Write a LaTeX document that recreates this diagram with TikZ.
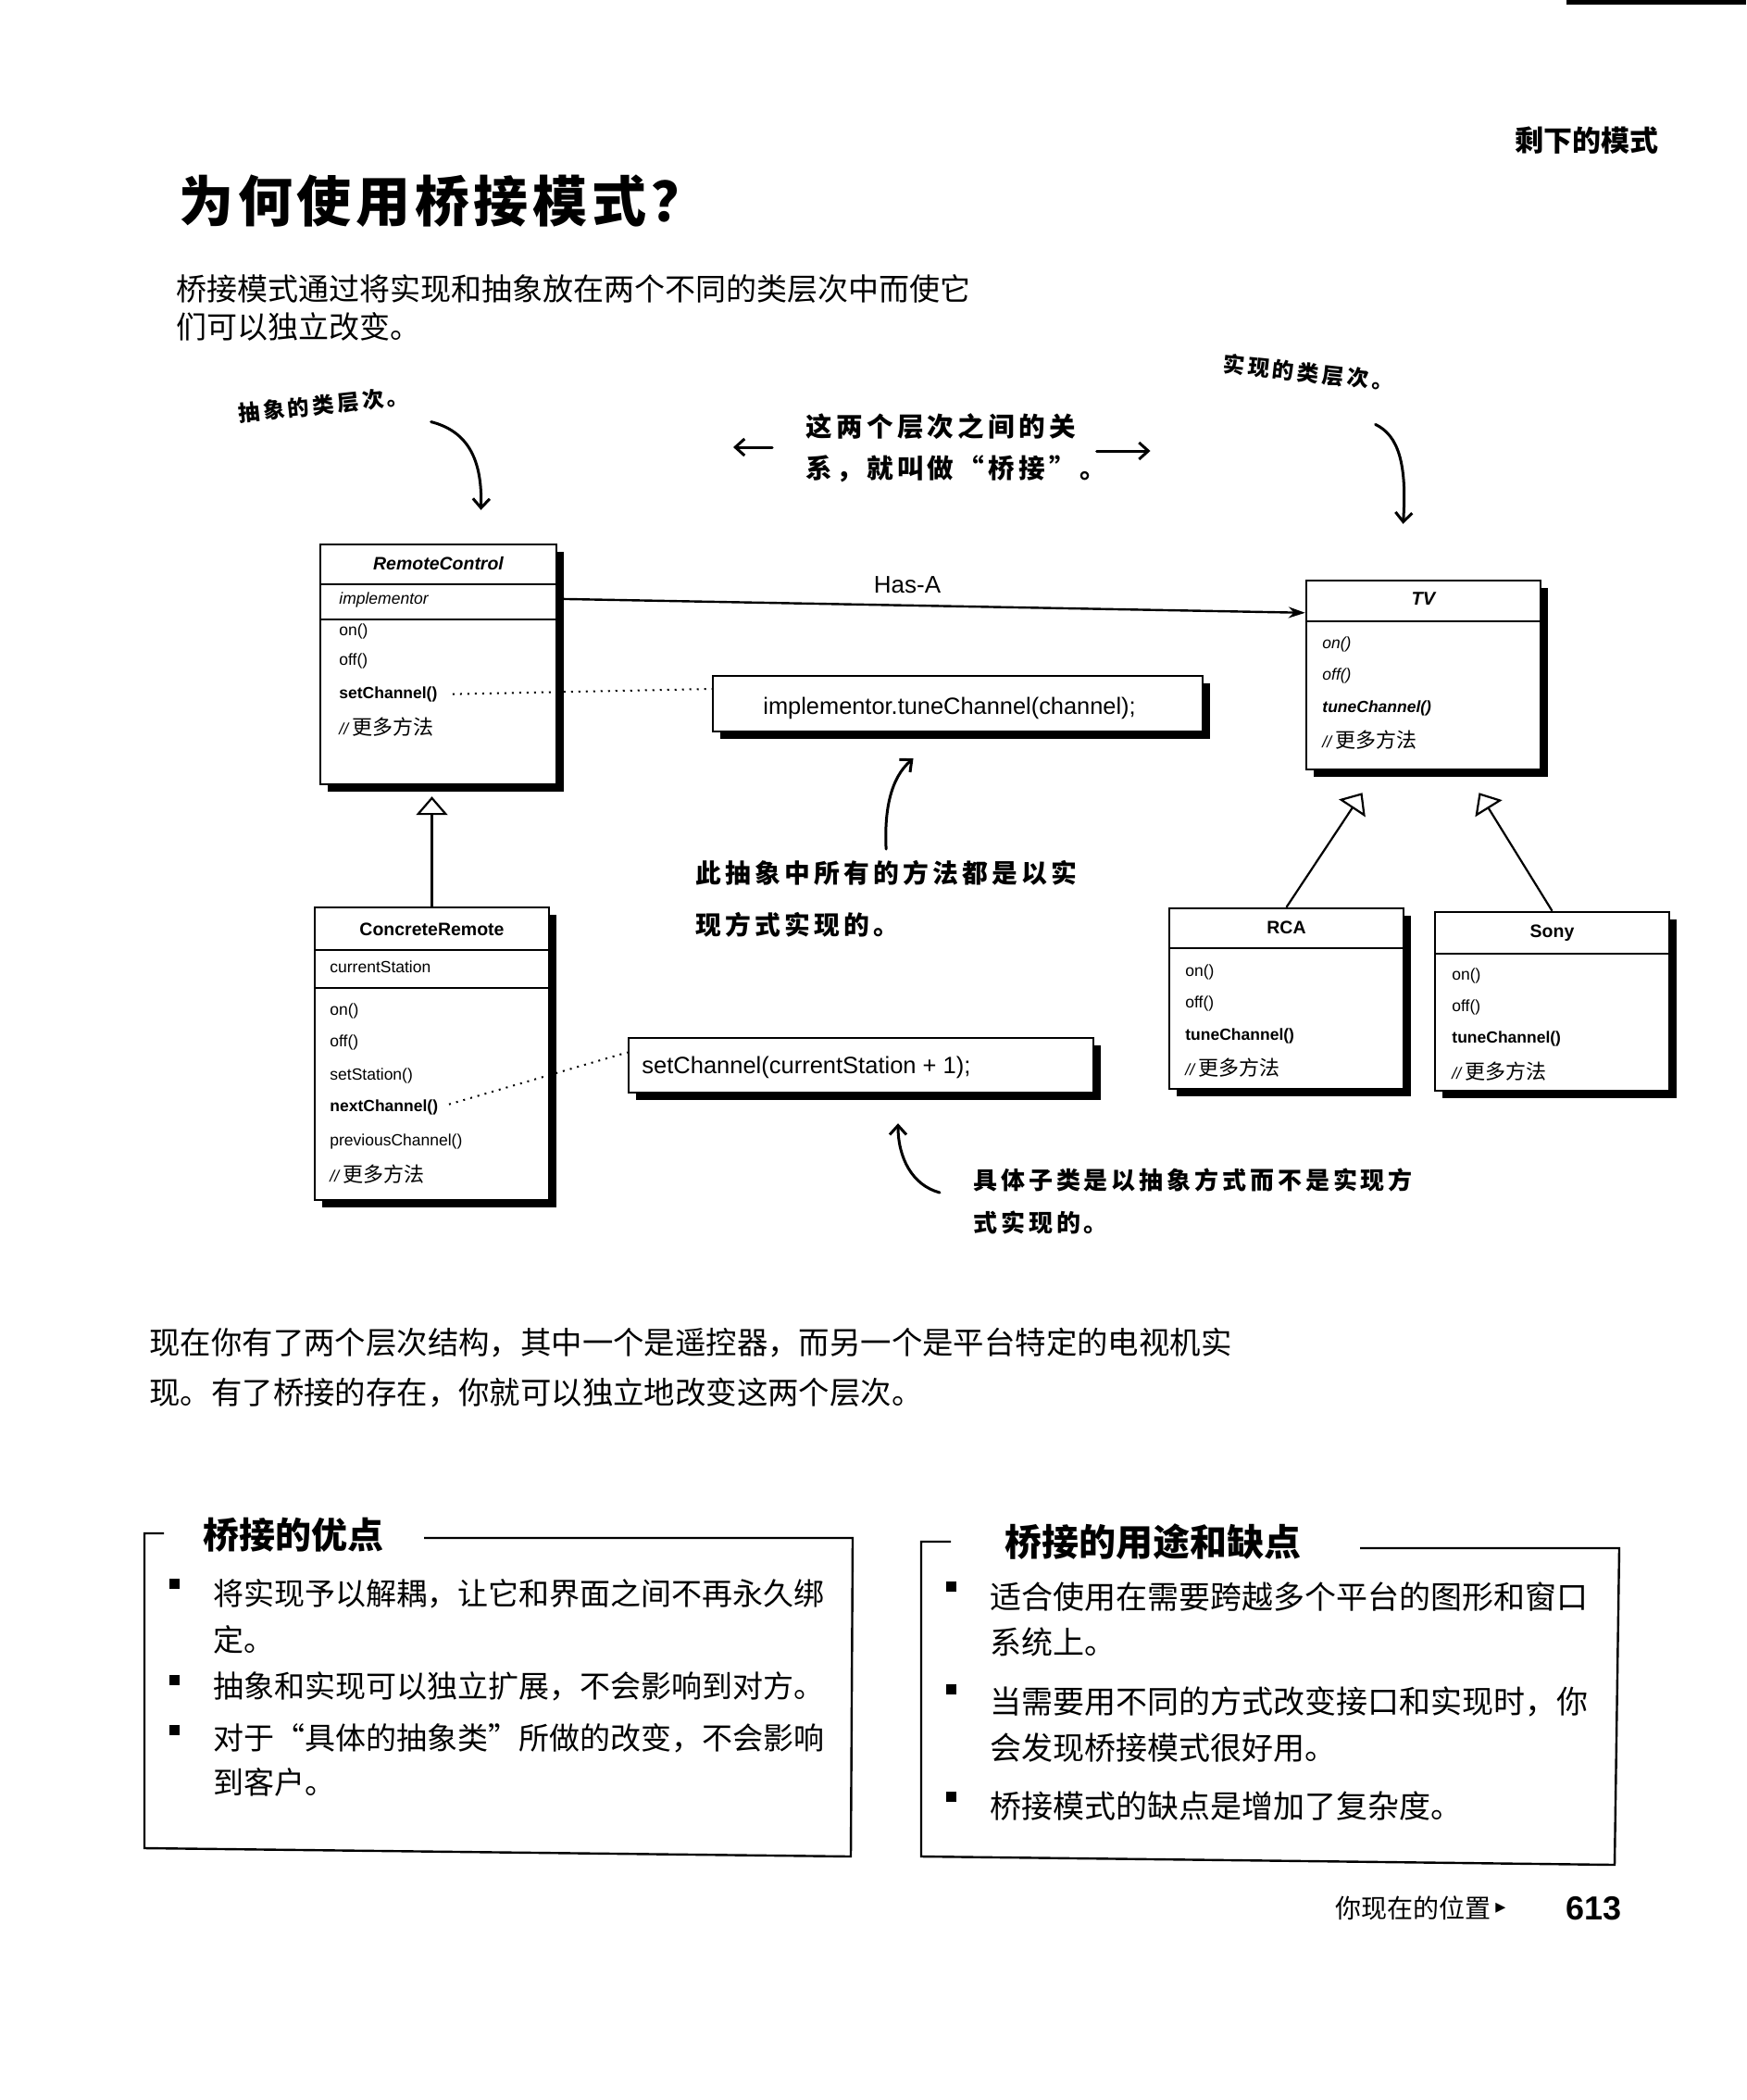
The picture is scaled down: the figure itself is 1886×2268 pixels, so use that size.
\documentclass[tikz,border=0pt]{standalone}
\usepackage{fontspec}
\setmainfont{Liberation Sans}
\newfontfamily\cjk{Noto Sans CJK SC}
\newfontfamily\handfont[LetterSpace=15]{Noto Sans CJK SC}
\newfontfamily\titlefont[LetterSpace=8]{Noto Sans CJK SC}
\newfontfamily\symfont{DejaVu Sans}
\usetikzlibrary{arrows.meta,shadows}
\newcommand\fsz[1]{\fontsize{#1}{#1}\selectfont}
\newcommand\moremeth{\textit{//}\,{\cjk\fsz{11pt}更多方法}}

\begin{document}
\begin{tikzpicture}[x=0.5pt,y=-0.5pt,
  classbox/.style={draw, fill=white, line width=1.2pt, inner sep=0pt,
    drop shadow={shadow xshift=4pt, shadow yshift=-4pt, opacity=1, fill=black}},
  member/.style={anchor=west, inner sep=0pt, font=\fsz{8.75pt}},
  cname/.style={inner sep=0pt, font=\bfseries\fsz{9.75pt}},
  handtxt/.style={anchor=west, inner sep=0pt, font=\handfont\bfseries},
  bodytxt/.style={anchor=west, inner sep=0pt, font=\cjk\fsz{16.5pt}},
  handarrow/.style={line width=1.5pt, line cap=round, -{Straight Barb[length=5pt,width=9pt]}},
  realize/.style={line width=1.1pt, -{Triangle[open,length=10pt,width=17pt]}},
  hasa/.style={line width=1.2pt, -{Stealth[length=9pt,width=6pt]}},
  dots/.style={line width=1pt, dash pattern=on 1pt off 3pt},
  sqbullet/.style={fill=black, inner sep=0pt, minimum size=5.5pt},
  boxline/.style={line width=1.2pt}]
\useasboundingbox (0,0) rectangle (1886,2268);
\fill (1692,0) rectangle (1886,5);
\node[anchor=east, inner sep=0pt, font=\cjk\bfseries\fsz{15.5pt}] (runhead) at (1792,152) {剩下的模式};
\node[anchor=west, inner sep=0pt, font=\titlefont\bfseries\fsz{29.5pt}] (title) at (193,217) {为何使用桥接模式？};
\node[bodytxt] (intro1) at (190,312) {桥接模式通过将实现和抽象放在两个不同的类层次中而使它};
\node[bodytxt] (intro2) at (190,353) {们可以独立改变。};

\node[handtxt, rotate=6] (absnote) at (257,447) {\fsz{11.7pt}抽象的类层次。};
\node[handtxt, rotate=-6] (implnote) at (1321,393) {\fsz{11.7pt}实现的类层次。};
\node[handtxt] (bridge1) at (870,461) {\fsz{14.3pt}这两个层次之间的关};
\node[handtxt] (bridge2) at (870,506) {\fsz{14.3pt}系，就叫做“桥接”。};
\node[handtxt] (iabs1) at (751,943) {\fsz{13.9pt}此抽象中所有的方法都是以实};
\node[handtxt] (iabs2) at (751,999) {\fsz{13.9pt}现方式实现的。};
\node[handtxt] (conc1) at (1051,1274) {\fsz{13pt}具体子类是以抽象方式而不是实现方};
\node[handtxt] (conc2) at (1051,1320) {\fsz{13pt}式实现的。};

\node[classbox, minimum width=127.5pt, minimum height=129.5pt] (rc) at (473.5,717.5) {};
\draw[line width=1pt] (346,631) -- (601,631);
\draw[line width=1pt] (346,669) -- (601,669);
\node[cname, font=\bfseries\itshape\fsz{9.75pt}] (rcname) at (473.5,609) {RemoteControl};
\node[member, font=\itshape\fsz{8.75pt}] (rcattr) at (366,648) {implementor};
\node[member] (rcon) at (366,682) {on()};
\node[member] (rcoff) at (366,714) {off()};
\node[member, font=\bfseries\fsz{8.75pt}] (rcset) at (366,750) {setChannel()};
\node[member] (rcmore) at (366,785) {\moremeth};

\node[classbox, minimum width=126.5pt, minimum height=102pt] (tv) at (1537.5,729) {};
\draw[line width=1pt] (1411,671) -- (1664,671);
\node[cname, font=\bfseries\itshape\fsz{10pt}] (tvname) at (1537.5,647) {TV};
\node[member, font=\itshape\fsz{8.75pt}] (tvon) at (1428,696) {on()};
\node[member, font=\itshape\fsz{8.75pt}] (tvoff) at (1428,730) {off()};
\node[member, font=\bfseries\itshape\fsz{8.75pt}] (tvtune) at (1428,765) {tuneChannel()};
\node[member] (tvmore) at (1428,799) {\moremeth};

\node[classbox, minimum width=126.5pt, minimum height=97.5pt] (rca) at (1389.5,1078.5) {};
\draw[line width=1pt] (1263,1024) -- (1516,1024);
\node[cname] (rcaname) at (1389.5,1002) {RCA};
\node[member] (rcaon) at (1280,1050) {on()};
\node[member] (rcaoff) at (1280,1084) {off()};
\node[member, font=\bfseries\fsz{8.75pt}] (rcatune) at (1280,1119) {tuneChannel()};
\node[member] (rcamore) at (1280,1153) {\moremeth};

\node[classbox, minimum width=126.5pt, minimum height=96.5pt] (sony) at (1676.5,1081.5) {};
\draw[line width=1pt] (1550,1030) -- (1803,1030);
\node[cname] (sonyname) at (1676.5,1008) {Sony};
\node[member] (sonyon) at (1568,1054) {on()};
\node[member] (sonyoff) at (1568,1088) {off()};
\node[member, font=\bfseries\fsz{8.75pt}] (sonytune) at (1568,1122) {tuneChannel()};
\node[member] (sonymore) at (1568,1157) {\moremeth};

\node[classbox, minimum width=126.5pt, minimum height=158pt] (cr) at (466.5,1138) {};
\draw[line width=1pt] (340,1026) -- (593,1026);
\draw[line width=1pt] (340,1067) -- (593,1067);
\node[cname] (crname) at (466.5,1004) {ConcreteRemote};
\node[member] (crattr) at (356,1044) {currentStation};
\node[member] (cron) at (356,1092) {on()};
\node[member] (croff) at (356,1126) {off()};
\node[member] (crstation) at (356,1162) {setStation()};
\node[member, font=\bfseries\fsz{8.75pt}] (crnext) at (356,1196) {nextChannel()};
\node[member] (crprev) at (356,1233) {previousChannel()};
\node[member] (crmore) at (356,1268) {\moremeth};

\node[classbox, minimum width=264.5pt, minimum height=30pt] (tcnote) at (1034.5,760) {};
\node[member, font=\fsz{12.7pt}] (tctext) at (824,765) {implementor.tuneChannel(channel);};
\node[classbox, minimum width=251pt, minimum height=29.5pt] (scnote) at (930,1150.5) {};
\node[member, font=\fsz{12.75pt}] (sctext) at (693,1153) {setChannel(currentStation + 1);};

\node[inner sep=0pt, font=\fsz{13pt}] (hasalabel) at (980,632) {Has-A};
\draw[hasa] ([yshift=-30pt]rc.north east) -- ([yshift=-18pt]tv.north west);
\draw[realize, shorten >=6pt] (cr.north) -- (cr.north |- rc.south);
\draw[realize] (rca.north) -- ([xshift=-33pt,yshift=-12pt]tv.south);
\draw[realize] (sony.north) -- ([xshift=30pt,yshift=-12pt]tv.south);
\draw[dots, shorten <=8pt] (rcset.east) -- ([yshift=8pt]tcnote.west);
\draw[dots, shorten <=6pt] (crnext.east) -- ([yshift=7pt]scnote.west);

\draw[handarrow] ([xshift=12pt,yshift=-14pt]absnote.east) .. controls (506,466) and (521,497) .. ([xshift=23pt,yshift=18pt]rc.north);
\draw[handarrow] ([xshift=-10pt,yshift=-23pt]implnote.east) .. controls (1510,470) and (1520,500) .. ([xshift=-11pt,yshift=30pt]tv.north);
\draw[handarrow] ([xshift=-18pt,yshift=-11pt]bridge1.west) -- ++(-21pt,0);
\draw[handarrow] ([xshift=11pt,yshift=-13pt]bridge1.east) -- ++(29pt,0);
\draw[handarrow] ([yshift=6pt]iabs1.north) .. controls (955,875) and (962,840) .. ([xshift=-24pt,yshift=-14pt]tcnote.south);
\draw[handarrow] ([xshift=-18pt,yshift=-7pt]conc1.west) .. controls (985,1280) and (970,1250) .. ([xshift=20pt,yshift=-16pt]scnote.south);

\node[bodytxt, font=\cjk\fsz{16.7pt}] (para1) at (161,1450) {现在你有了两个层次结构，其中一个是遥控器，而另一个是平台特定的电视机实};
\node[bodytxt, font=\cjk\fsz{16.7pt}] (para2) at (161,1504) {现。有了桥接的存在，你就可以独立地改变这两个层次。};

\draw[boxline] (177,1656) -- (156,1656) -- (156,1996) -- (919,2005) -- (921,1661) -- (458,1661);
\node[anchor=west, inner sep=0pt, font=\cjk\bfseries\fsz{19.5pt}] (protitle) at (219,1658) {桥接的优点};
\node[sqbullet] (pro1b) at (188,1710) {};
\node[bodytxt] (pro1a) at (230,1721) {将实现予以解耦，让它和界面之间不再永久绑};
\node[bodytxt] (pro1c) at (230,1771) {定。};
\node[sqbullet] (pro2b) at (188,1814) {};
\node[bodytxt] (pro2) at (230,1821) {抽象和实现可以独立扩展，不会影响到对方。};
\node[sqbullet] (pro3b) at (188,1868) {};
\node[bodytxt] (pro3a) at (230,1877) {对于“具体的抽象类”所做的改变，不会影响};
\node[bodytxt] (pro3c) at (230,1925) {到客户。};

\draw[boxline] (1027,1665) -- (995,1665) -- (995,2005) -- (1744,2014) -- (1749,1672) -- (1469,1672);
\node[anchor=west, inner sep=0pt, font=\cjk\bfseries\fsz{20pt}] (usetitle) at (1085,1665) {桥接的用途和缺点};
\node[sqbullet] (use1b) at (1027,1713) {};
\node[bodytxt, font=\cjk\fsz{17pt}] (use1a) at (1069,1725) {适合使用在需要跨越多个平台的图形和窗口};
\node[bodytxt, font=\cjk\fsz{17pt}] (use1c) at (1069,1773) {系统上。};
\node[sqbullet] (use2b) at (1027,1824) {};
\node[bodytxt, font=\cjk\fsz{17pt}] (use2a) at (1069,1838) {当需要用不同的方式改变接口和实现时，你};
\node[bodytxt, font=\cjk\fsz{17pt}] (use2c) at (1069,1888) {会发现桥接模式很好用。};
\node[sqbullet] (use3b) at (1027,1940) {};
\node[bodytxt, font=\cjk\fsz{17pt}] (use3) at (1069,1951) {桥接模式的缺点是增加了复杂度。};

\node[anchor=west, inner sep=0pt, font=\cjk\fsz{14pt}] (footer) at (1442,2061) {你现在的位置};
\node[anchor=west, inner sep=0pt, font=\symfont\fsz{11pt}] (footmark) at (1615,2061) {▸};
\node[anchor=west, inner sep=0pt, font=\bfseries\fsz{18pt}] (pageno) at (1691,2061) {613};
\end{tikzpicture}
\end{document}
